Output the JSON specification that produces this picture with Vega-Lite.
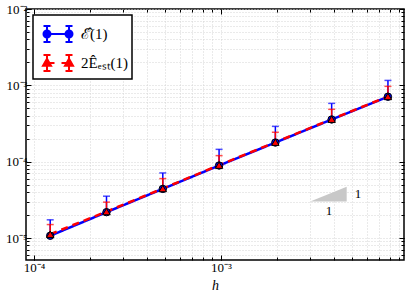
{
  "$schema": "https://vega.github.io/schema/vega-lite/v6.json",
  "width": 378,
  "height": 251,
  "autosize": {"type": "none"},
  "padding": {"left": 26, "top": 9, "right": 3, "bottom": 37},
  "background": "white",
  "config": {
    "view": {"stroke": "black", "strokeWidth": 1.5},
    "axis": {"domain": false, "tickColor": "black", "tickWidth": 1, "labelColor": "black", "labelFont": "Liberation Serif", "labelFontSize": 13, "titleFont": "Liberation Serif", "titleColor": "black", "gridColor": "#d4d4d4", "gridDash": [1, 2], "gridWidth": 1},
    "legend": {"strokeColor": "black", "strokeWidth": 1.5, "fillColor": "white", "padding": 4, "cornerRadius": 0}
  },
  "datasets": {
    "pts": [
      {"h": 0.0001220703125, "series": "E", "y": 0.0000107, "up": 0.0000173},
      {"h": 0.000244140625, "series": "E", "y": 0.0000218, "up": 0.0000353},
      {"h": 0.00048828125, "series": "E", "y": 0.000044, "up": 0.0000712},
      {"h": 0.0009765625, "series": "E", "y": 0.000089, "up": 0.000145},
      {"h": 0.001953125, "series": "E", "y": 0.000178, "up": 0.00029},
      {"h": 0.00390625, "series": "E", "y": 0.000357, "up": 0.00058},
      {"h": 0.0078125, "series": "E", "y": 0.00071, "up": 0.00116},
      {"h": 0.0001220703125, "series": "Est", "y": 0.0000112, "up": 0.0000150},
      {"h": 0.000244140625, "series": "Est", "y": 0.0000222, "up": 0.0000295},
      {"h": 0.00048828125, "series": "Est", "y": 0.0000445, "up": 0.00006},
      {"h": 0.0009765625, "series": "Est", "y": 0.00009, "up": 0.00012},
      {"h": 0.001953125, "series": "Est", "y": 0.00018, "up": 0.000243},
      {"h": 0.00390625, "series": "Est", "y": 0.00036, "up": 0.000485},
      {"h": 0.0078125, "series": "Est", "y": 0.000715, "up": 0.00097}
    ],
    "tri": [
      {"x": 0.003, "yb": 0.00003, "yt": 0.00003},
      {"x": 0.0047, "yb": 0.00003, "yt": 0.000047}
    ],
    "lab": [
      {"x": 0.0054, "y": 0.0000378, "t": "1"},
      {"x": 0.00378, "y": 0.0000226, "t": "1"}
    ],
    "leg": [
      {"series": "\u2130\u0302(1)"},
      {"series": "2\u00ca\u2091\u209b\u209c(1)"}
    ]
  },
  "layer": [
    {
      "data": {"name": "tri"},
      "mark": {"type": "area", "color": "#c8c8c8", "interpolate": "linear"},
      "encoding": {
        "x": {"field": "x", "type": "quantitative", "scale": {"type": "log", "domain": [0.0000906, 0.00952], "nice": false}, "axis": {"orient": "bottom", "values": [0.0001, 0.001], "labelExpr": "datum.value == 0.0001 ? '10\u207b\u2074' : '10\u207b\u00b3'", "title": "h", "titleFontStyle": "italic", "titleFontWeight": "normal", "titleFontSize": 14, "titlePadding": 4, "tickSize": -5, "grid": false, "labelPadding": 6}},
        "y": {"field": "yt", "type": "quantitative", "scale": {"type": "log", "domain": [0.00000515, 0.01], "nice": false}, "axis": {"orient": "left", "values": [0.00001, 0.0001, 0.001, 0.01], "labelExpr": "datum.value == 0.00001 ? '10\u207b\u2075' : datum.value == 0.0001 ? '10\u207b\u2074' : datum.value == 0.001 ? '10\u207b\u00b3' : '10\u207b\u00b2'", "title": null, "tickSize": -5, "grid": false, "labelPadding": 4}},
        "y2": {"field": "yb"}
      }
    },
    {
      "data": {"name": "lab"},
      "mark": {"type": "text", "font": "Liberation Serif", "fontSize": 13, "fill": "black"},
      "encoding": {
        "x": {"field": "x", "type": "quantitative", "scale": {"type": "log", "domain": [0.0000906, 0.00952], "nice": false}, "axis": {"orient": "bottom", "values": [0.0001, 0.0002, 0.0003, 0.0004, 0.0005, 0.0006, 0.0007, 0.0008, 0.0009, 0.001, 0.002, 0.003, 0.004, 0.005, 0.006, 0.007, 0.008, 0.009], "labels": false, "title": null, "tickSize": -3, "grid": true}},
        "y": {"field": "y", "type": "quantitative", "scale": {"type": "log", "domain": [0.00000515, 0.01], "nice": false}, "axis": {"orient": "left", "values": [0.000006, 0.000007, 0.000008, 0.000009, 0.00001, 0.00002, 0.00003, 0.00004, 0.00005, 0.00006, 0.00007, 0.00008, 0.00009, 0.0001, 0.0002, 0.0003, 0.0004, 0.0005, 0.0006, 0.0007, 0.0008, 0.0009, 0.001, 0.002, 0.003, 0.004, 0.005, 0.006, 0.007, 0.008, 0.009, 0.01], "labels": false, "title": null, "tickSize": -3, "grid": true}},
        "text": {"field": "t"}
      }
    },
    {
      "data": {"name": "pts"},
      "mark": {"type": "line", "strokeWidth": 2.5},
      "encoding": {
        "x": {"field": "h", "type": "quantitative", "scale": {"type": "log", "domain": [0.0000906, 0.00952], "nice": false}, "axis": {"orient": "top", "values": [0.0001, 0.001], "labels": false, "title": null, "tickSize": -5, "grid": false}},
        "y": {"field": "y", "type": "quantitative", "scale": {"type": "log", "domain": [0.00000515, 0.01], "nice": false}, "axis": {"orient": "right", "values": [0.00001, 0.0001, 0.001, 0.01], "labels": false, "title": null, "tickSize": -5, "grid": false}},
        "detail": {"field": "series"},
        "stroke": {"condition": {"test": "datum.series == 'E'", "value": "#0000ff"}, "value": "#ff0000"},
        "strokeDash": {"condition": {"test": "datum.series == 'E'", "value": [1, 0]}, "value": [7, 5]}
      }
    },
    {
      "data": {"name": "pts"},
      "mark": {"type": "rule", "strokeWidth": 1.5},
      "encoding": {
        "x": {"field": "h", "type": "quantitative", "scale": {"type": "log", "domain": [0.0000906, 0.00952], "nice": false}, "axis": {"orient": "top", "values": [0.0001, 0.0002, 0.0003, 0.0004, 0.0005, 0.0006, 0.0007, 0.0008, 0.0009, 0.001, 0.002, 0.003, 0.004, 0.005, 0.006, 0.007, 0.008, 0.009], "labels": false, "title": null, "tickSize": -3, "grid": false}},
        "y": {"field": "y", "type": "quantitative", "scale": {"type": "log", "domain": [0.00000515, 0.01], "nice": false}, "axis": {"orient": "right", "values": [0.000006, 0.000007, 0.000008, 0.000009, 0.00001, 0.00002, 0.00003, 0.00004, 0.00005, 0.00006, 0.00007, 0.00008, 0.00009, 0.0001, 0.0002, 0.0003, 0.0004, 0.0005, 0.0006, 0.0007, 0.0008, 0.0009, 0.001, 0.002, 0.003, 0.004, 0.005, 0.006, 0.007, 0.008, 0.009, 0.01], "labels": false, "title": null, "tickSize": -3, "grid": false}},
        "y2": {"field": "up"},
        "stroke": {"condition": {"test": "datum.series == 'E'", "value": "#0000ff"}, "value": "#ff0000"}
      }
    },
    {
      "data": {"name": "pts"},
      "mark": {"type": "tick", "orient": "horizontal", "size": 7, "thickness": 1.5},
      "encoding": {
        "x": {"field": "h", "type": "quantitative", "scale": {"type": "log", "domain": [0.0000906, 0.00952], "nice": false}, "axis": null},
        "y": {"field": "up", "type": "quantitative", "scale": {"type": "log", "domain": [0.00000515, 0.01], "nice": false}, "axis": null},
        "color": {"condition": {"test": "datum.series == 'E'", "value": "#0000ff"}, "value": "#ff0000"}
      }
    },
    {
      "data": {"name": "pts"},
      "mark": {"type": "point", "filled": true, "stroke": "black", "strokeWidth": 1, "size": 55, "opacity": 1},
      "encoding": {
        "x": {"field": "h", "type": "quantitative", "scale": {"type": "log", "domain": [0.0000906, 0.00952], "nice": false}, "axis": null},
        "y": {"field": "y", "type": "quantitative", "scale": {"type": "log", "domain": [0.00000515, 0.01], "nice": false}, "axis": null},
        "fill": {"condition": {"test": "datum.series == 'E'", "value": "#0000ff"}, "value": "#ff0000"},
        "shape": {"condition": {"test": "datum.series == 'E'", "value": "circle"}, "value": "triangle-up"}
      }
    },
    {
      "data": {"name": "leg"},
      "mark": {"type": "point", "filled": true, "opacity": 0},
      "encoding": {
        "fill": {"field": "series", "type": "nominal", "scale": {"domain": ["\u2130\u0302(1)", "2\u00ca\u2091\u209b\u209c(1)"], "range": ["#0000ff", "#ff0000"]}, "legend": {"title": null, "orient": "none", "legendX": 7, "legendY": 6, "symbolSize": 784, "symbolOffset": 6, "symbolStrokeWidth": 2, "symbolOpacity": 1, "labelFont": "Liberation Serif", "labelFontSize": 15, "labelColor": "black", "labelOffset": 8, "rowPadding": 2}},
        "stroke": {"field": "series", "type": "nominal", "scale": {"domain": ["\u2130\u0302(1)", "2\u00ca\u2091\u209b\u209c(1)"], "range": ["#0000ff", "#ff0000"]}, "legend": {"title": null, "orient": "none", "legendX": 7, "legendY": 6, "symbolSize": 784, "symbolOffset": 6, "symbolStrokeWidth": 2, "symbolOpacity": 1, "labelFont": "Liberation Serif", "labelFontSize": 15, "labelColor": "black", "labelOffset": 8, "rowPadding": 2}},
        "shape": {"field": "series", "type": "nominal", "scale": {"domain": ["\u2130\u0302(1)", "2\u00ca\u2091\u209b\u209c(1)"], "range": [
          "M-0.786,0L0.786,0M-0.786,-0.571L-0.786,0.571M-1.036,-0.571L-0.536,-0.571M-1.036,0.571L-0.536,0.571M0.786,-0.571L0.786,0.571M0.536,-0.571L1.036,-0.571M0.536,0.571L1.036,0.571M-0.536,0A0.25,0.25 0 1,1 -1.036,0A0.25,0.25 0 1,1 -0.536,0ZM1.036,0A0.25,0.25 0 1,1 0.536,0A0.25,0.25 0 1,1 1.036,0Z",
          "M-0.786,0L-0.25,0M0.25,0L0.786,0M-0.786,-0.571L-0.786,0.571M-1.036,-0.571L-0.536,-0.571M-1.036,0.571L-0.536,0.571M0.786,-0.571L0.786,0.571M0.536,-0.571L1.036,-0.571M0.536,0.571L1.036,0.571M-0.786,-0.3L-0.5,0.2L-1.072,0.2ZM0.786,-0.3L1.072,0.2L0.5,0.2Z"
        ]}, "legend": {"title": null, "orient": "none", "legendX": 7, "legendY": 6, "symbolSize": 784, "symbolOffset": 6, "symbolStrokeWidth": 2, "symbolOpacity": 1, "labelFont": "Liberation Serif", "labelFontSize": 15, "labelColor": "black", "labelOffset": 8, "rowPadding": 2}}
      }
    }
  ],
  "resolve": {"axis": {"x": "independent", "y": "independent"}}
}
